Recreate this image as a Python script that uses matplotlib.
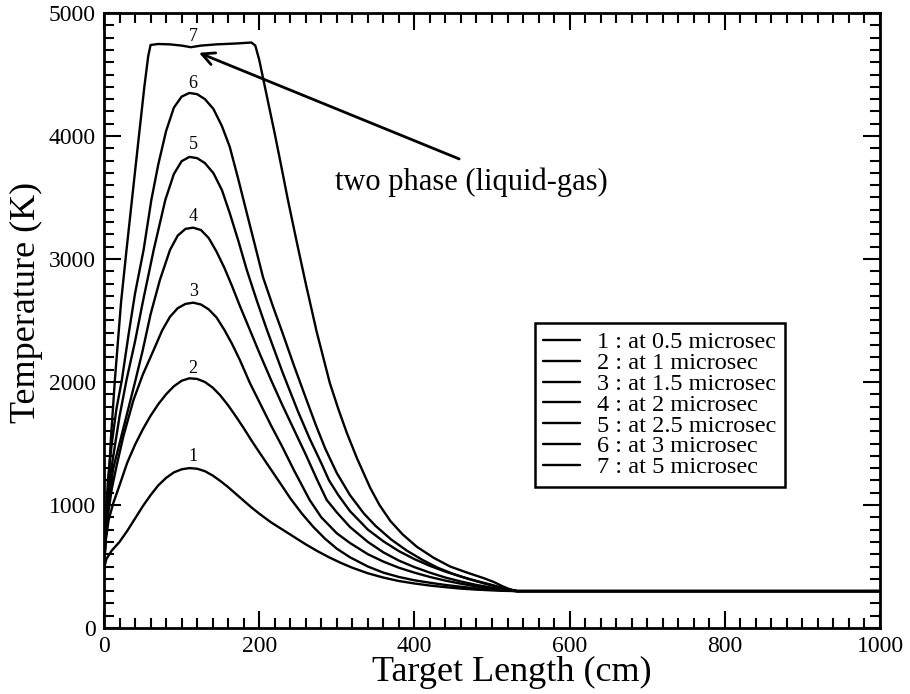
import matplotlib
matplotlib.use("Agg")
import matplotlib.pyplot as plt
from matplotlib.ticker import MultipleLocator

plt.rcParams['font.family'] = ['Liberation Serif', 'DejaVu Serif']

# ---- data ----
x1 = [0, 3, 10, 20, 30, 40, 50, 60, 70, 80, 90, 100, 110, 120, 130, 140, 150, 160, 170, 180, 190, 200, 215, 230, 245, 260, 275, 290, 305, 320, 340, 360, 380, 400, 420, 440, 460, 480, 500, 515, 532, 1000]
y1 = [480, 560, 630, 700, 790, 890, 990, 1080, 1160, 1220, 1265, 1290, 1300, 1295, 1275, 1240, 1195, 1145, 1090, 1035, 980, 930, 860, 800, 740, 680, 625, 575, 530, 490, 445, 410, 382, 362, 345, 332, 320, 312, 306, 302, 300, 300]

x2 = [0, 2, 6, 12, 20, 30, 40, 50, 60, 70, 80, 90, 100, 110, 120, 130, 140, 150, 160, 170, 180, 190, 200, 215, 230, 240, 255, 270, 285, 300, 317, 340, 360, 380, 400, 420, 440, 460, 480, 500, 515, 532, 1000]
y2 = [480, 700, 880, 1016, 1160, 1345, 1490, 1615, 1725, 1820, 1900, 1965, 2010, 2030, 2025, 2000, 1955, 1890, 1810, 1720, 1625, 1525, 1430, 1290, 1150, 1055, 930, 820, 725, 645, 575, 500, 450, 415, 388, 368, 350, 335, 322, 312, 305, 300, 300]

x3 = [0, 2, 6, 10, 16, 25, 38, 50, 64, 75, 85, 95, 105, 115, 125, 135, 145, 155, 165, 175, 188, 200, 215, 230, 245, 265, 280, 300, 317, 340, 360, 380, 400, 420, 440, 460, 480, 500, 515, 532, 1000]
y3 = [480, 720, 960, 1130, 1312, 1560, 1854, 2060, 2260, 2420, 2530, 2600, 2635, 2645, 2630, 2590, 2525, 2425, 2310, 2180, 1992, 1840, 1650, 1470, 1280, 1041, 900, 770, 691, 600, 540, 490, 450, 415, 385, 360, 338, 320, 308, 300, 300]

x4 = [0, 2, 6, 12, 20, 30, 40, 50, 60, 72, 85, 95, 105, 115, 125, 135, 145, 155, 165, 175, 188, 200, 215, 230, 245, 260, 275, 287, 300, 317, 340, 360, 380, 400, 420, 440, 460, 480, 500, 515, 532, 1000]
y4 = [480, 760, 1050, 1300, 1500, 1750, 2000, 2260, 2550, 2829, 3073, 3190, 3245, 3255, 3235, 3170, 3060, 2930, 2780, 2620, 2423, 2240, 2020, 1810, 1610, 1410, 1200, 1041, 940, 821, 700, 615, 548, 495, 450, 410, 378, 350, 328, 312, 300, 300]

x5 = [0, 2, 6, 12, 20, 29, 40, 50, 64, 79, 90, 100, 110, 120, 130, 141, 152, 162, 173, 184, 197, 210, 230, 250, 265, 280, 290, 302, 317, 340, 360, 380, 400, 420, 440, 460, 480, 500, 515, 532, 1000]
y5 = [480, 760, 1150, 1400, 1720, 2016, 2330, 2650, 3073, 3480, 3690, 3795, 3830, 3820, 3780, 3698, 3560, 3374, 3150, 2911, 2660, 2423, 2080, 1760, 1540, 1340, 1200, 1080, 950, 800, 705, 625, 560, 505, 458, 418, 383, 350, 322, 300, 300]

x6 = [0, 2, 5, 10, 16, 23, 32, 40, 51, 61, 70, 80, 90, 100, 110, 120, 130, 141, 152, 162, 173, 184, 195, 205, 218, 230, 245, 261, 273, 285, 300, 317, 335, 350, 370, 390, 410, 430, 450, 470, 490, 510, 532, 1000]
y6 = [480, 800, 1200, 1500, 1780, 2016, 2400, 2720, 3073, 3480, 3770, 4040, 4230, 4320, 4350, 4340, 4300, 4220, 4080, 3913, 3650, 3374, 3100, 2850, 2610, 2400, 2130, 1854, 1650, 1460, 1260, 1080, 930, 830, 720, 630, 555, 490, 440, 398, 362, 330, 300, 300]

x7 = [0, 2, 5, 9, 14, 22, 29, 36, 45, 52, 57, 60, 70, 85, 100, 112, 125, 145, 170, 190, 195, 200, 205, 210, 220, 227, 237, 248, 260, 274, 291, 302, 313, 326, 343, 355, 369, 385, 403, 425, 446, 468, 489, 502, 514, 523, 532, 1000]
y7 = [480, 720, 1100, 1550, 2016, 2650, 3073, 3480, 4000, 4400, 4650, 4740, 4748, 4745, 4735, 4722, 4735, 4745, 4752, 4760, 4735, 4620, 4470, 4320, 4020, 3800, 3480, 3150, 2800, 2410, 1992, 1780, 1585, 1380, 1140, 1000, 870, 760, 661, 570, 500, 450, 406, 375, 338, 315, 300, 300]

legend_labels = ["1 : at 0.5 microsec", "2 : at 1 microsec", "3 : at 1.5 microsec",
                 "4 : at 2 microsec", "5 : at 2.5 microsec", "6 : at 3 microsec",
                 "7 : at 5 microsec"]
curve_tags = ["1", "2", "3", "4", "5", "6", "7"]
tag_x = 115
tag_y = [1393, 2111, 2734, 3344, 3927, 4428, 4807]

note_text = "two phase (liquid-gas)"
note_tip = (119, 4685)
note_tail = (461, 3805)
note_pos = (298, 3620)

xs = [x1, x2, x3, x4, x5, x6, x7]
ys = [y1, y2, y3, y4, y5, y6, y7]

# ---- figure ----
fig = plt.figure(figsize=(9.10, 6.94), dpi=100)
ax = fig.add_axes([104/910, 1-628/694, 776/910, 615/694])

for xv, yv, lab in zip(xs, ys, legend_labels):
    ax.plot(xv, yv, color='black', lw=1.7, label=lab,
            solid_joinstyle='round', solid_capstyle='round')

for t, ty in zip(curve_tags, tag_y):
    ax.text(tag_x, ty, t, ha='center', va='center', fontsize=13)

ax.annotate("", xy=note_tip, xytext=note_tail,
            arrowprops=dict(arrowstyle='->,head_length=0.9,head_width=0.45', lw=2, color='black'))
ax.text(note_pos[0], note_pos[1], note_text, ha='left', va='center', fontsize=22)

ax.set_xlim(0, 1000)
ax.set_ylim(0, 5000)
ax.xaxis.set_major_locator(MultipleLocator(200))
ax.xaxis.set_minor_locator(MultipleLocator(20))
ax.yaxis.set_major_locator(MultipleLocator(1000))
ax.yaxis.set_minor_locator(MultipleLocator(100))
ax.tick_params(which='both', direction='in', top=True, right=True, width=1.5)
ax.tick_params(which='major', length=12, labelsize=17, pad=6)
ax.tick_params(which='minor', length=7)
for s in ax.spines.values():
    s.set_linewidth(2)

ax.set_xlabel("Target Length (cm)", fontsize=26)
ax.set_ylabel("Temperature (K)", fontsize=26)
ax.xaxis.set_label_coords(0.525, -0.045, transform=ax.transAxes)
ax.xaxis.label.set_va('top')
ax.yaxis.set_label_coords(-0.078, 0.53, transform=ax.transAxes)
ax.yaxis.label.set_va('bottom')

leg = ax.legend(loc='upper left', bbox_to_anchor=(0.555, 0.496), fontsize=17.5,
                frameon=True, fancybox=False, edgecolor='black', framealpha=1,
                handlelength=1.5, handletextpad=0.7, labelspacing=-0.05,
                borderpad=0.35, borderaxespad=0)
leg.get_frame().set_linewidth(1.8)

fig.savefig("out.png", dpi=100)
